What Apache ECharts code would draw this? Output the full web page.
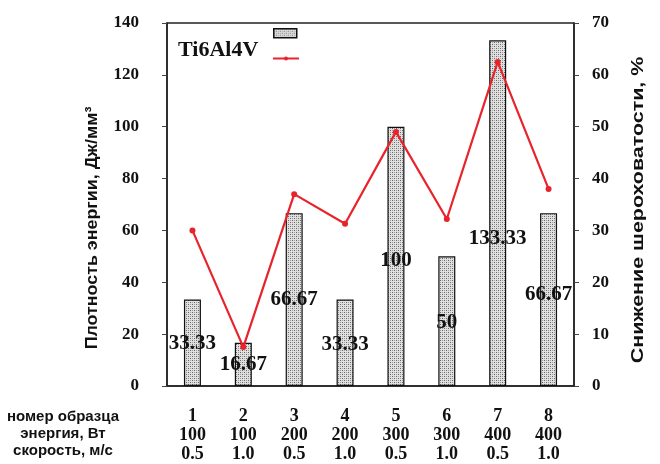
<!DOCTYPE html>
<html>
<head>
<meta charset="utf-8">
<script src="https://cdn.jsdelivr.net/npm/echarts@6/dist/echarts.min.js"></script>
<style>
  html, body { margin: 0; padding: 0; background: #fff; }
  #chart { width: 660px; height: 464px; }
</style>
</head>
<body>
<div id="chart"></div>
<script>
// Sample parameters (x-axis rows)
const sampleNo = ['1', '2', '3', '4', '5', '6', '7', '8'];
const powerW = ['100', '100', '200', '200', '300', '300', '400', '400'];
const speed = ['0.5', '1.0', '0.5', '1.0', '0.5', '1.0', '0.5', '1.0'];

// Energy density, J/mm^3 (bars, left axis)
const energyDensity = [33.33, 16.67, 66.67, 33.33, 100, 50, 133.33, 66.67];
// Roughness reduction, % (line, right axis)
const roughnessDrop = [30, 7.5, 37, 31.3, 49, 32.2, 62.5, 38];

// Left-axis and right-axis tick settings
const leftMax = 140, leftStep = 20;
const rightMax = 70, rightStep = 10;

// Stippled fill for the bars
function stipple() {
  const c = document.createElement('canvas');
  c.width = 4; c.height = 4;
  const g = c.getContext('2d');
  g.fillStyle = '#e0e0e0';
  g.fillRect(0, 0, 4, 4);
  g.fillStyle = '#666';
  g.fillRect(0, 0, 1, 1);
  g.fillRect(2, 2, 1, 1);
  g.fillStyle = '#a0a0a0';
  g.fillRect(2, 0, 1, 1);
  g.fillRect(0, 2, 1, 1);
  return c;
}
const fill = { image: stipple(), repeat: 'repeat' };

// Small per-bar nudges of the value labels (pixels)
const labelNudge = [1, 0, 0, 2, 4, 1, 25, -5];

const serif = '"Liberation Serif", "Times New Roman", serif';
const sans = '"Liberation Sans", Arial, sans-serif';
const red = '#e8232b';

const chart = echarts.init(document.getElementById('chart'));
chart.setOption({
  animation: false,
  backgroundColor: '#fff',
  grid: { left: 167, right: 86, top: 23, bottom: 77, show: true, borderColor: '#222', borderWidth: 1.5 },
  legend: [
    {
      left: 273, top: 28, padding: 0,
      itemWidth: 23, itemHeight: 9,
      formatter: () => '',
      data: [{ name: 'bars', icon: 'rect', itemStyle: { color: fill, borderColor: '#111', borderWidth: 1.5 } }]
    },
    {
      left: 272, top: 56, padding: 0,
      itemWidth: 26, itemHeight: 5,
      formatter: () => '',
      data: [{ name: 'line' }]
    }
  ],
  xAxis: {
    type: 'category',
    data: sampleNo.map((n, i) => n + '\n' + powerW[i] + '\n' + speed[i]),
    axisLine: { lineStyle: { color: '#222', width: 1.5 } },
    axisTick: { show: false },
    axisLabel: {
      color: '#111',
      fontFamily: serif,
      fontWeight: 'bold',
      fontSize: 18,
      lineHeight: 19,
      margin: 21
    }
  },
  yAxis: [
    {
      type: 'value', min: 0, max: leftMax, interval: leftStep,
      axisLine: { show: true, lineStyle: { color: '#222', width: 1.5 } },
      axisTick: { show: true, length: 5, lineStyle: { color: '#444' } },
      splitLine: { show: false },
      axisLabel: { color: '#111', fontFamily: serif, fontWeight: 'bold', fontSize: 17, margin: 28 }
    },
    {
      type: 'value', min: 0, max: rightMax, interval: rightStep,
      axisLine: { show: true, lineStyle: { color: '#222', width: 1.5 } },
      axisTick: { show: true, length: 5, lineStyle: { color: '#444' } },
      splitLine: { show: false },
      axisLabel: { color: '#111', fontFamily: serif, fontWeight: 'bold', fontSize: 17, margin: 18 }
    }
  ],
  series: [
    {
      name: 'bars',
      type: 'bar',
      yAxisIndex: 0,
      barWidth: 17,
      data: energyDensity.map((v, i) => ({
        value: v,
        label: { offset: [0, labelNudge[i]] }
      })),
      itemStyle: { color: fill, borderColor: '#111', borderWidth: 1.2 },
      label: {
        show: true,
        position: 'inside',
        color: '#111',
        fontFamily: serif,
        fontWeight: 'bold',
        fontSize: 21,
        formatter: p => String(p.value)
      },
      z: 2
    },
    {
      name: 'line',
      type: 'line',
      yAxisIndex: 1,
      data: roughnessDrop,
      color: red,
      lineStyle: { color: red, width: 2.2 },
      symbol: 'circle',
      symbolSize: 6,
      itemStyle: { color: red },
      z: 3
    }
  ],
  graphic: [
    {
      type: 'text', left: 178, top: 39,
      style: { text: 'Ti6Al4V', fill: '#111', font: 'bold 22px ' + serif }
    },
    {
      type: 'text', x: 63, y: 408,
      style: {
        text: 'номер образца\nэнергия, Вт\nскорость, м/с',
        fill: '#111', font: 'bold 15px ' + sans,
        align: 'center', lineHeight: 17
      }
    },
    {
      type: 'text', x: 92, y: 228, rotation: Math.PI / 2, scaleX: 1.05,
      style: {
        text: 'Плотность энергии, Дж/мм³',
        fill: '#111', font: 'bold 17px ' + sans,
        align: 'center', verticalAlign: 'middle'
      }
    },
    {
      type: 'text', x: 638, y: 210, rotation: Math.PI / 2, scaleX: 1.26,
      style: {
        text: 'Снижение шероховатости, %',
        fill: '#111', font: 'bold 17px ' + sans,
        align: 'center', verticalAlign: 'middle'
      }
    }
  ]
});
</script>
</body>
</html>
